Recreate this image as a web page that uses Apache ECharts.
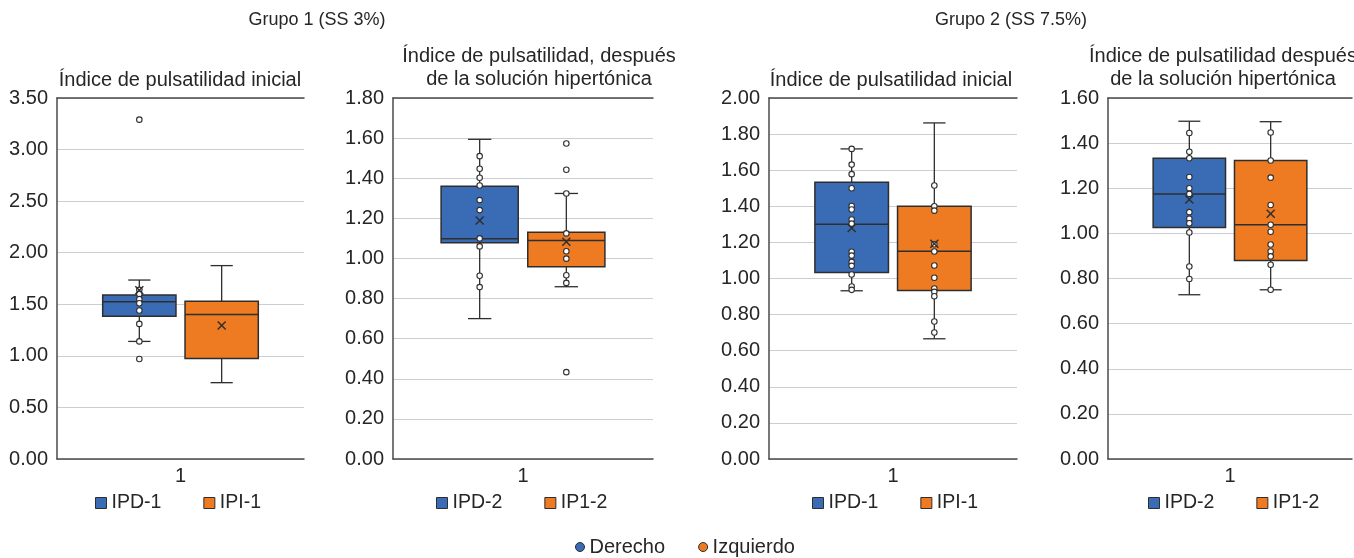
<!DOCTYPE html>
<html>
<head>
<meta charset="utf-8">
<script src="https://cdn.jsdelivr.net/npm/echarts@6/dist/echarts.min.js"></script>
<style>
  html, body { margin: 0; padding: 0; background: #fff; }
  #chart { width: 1354px; height: 558px; }
</style>
</head>
<body>
<div id="chart"></div>
<script>
// box stats: [min, q1, median, q3, max]
const g1InicialBox = [[1.14, 1.385, 1.525, 1.59, 1.735], [0.74, 0.975, 1.40, 1.53, 1.875]];
const g1InicialMean = [1.635, 1.295];
const g1InicialDer = [3.29, 1.64, 1.60, 1.55, 1.51, 1.44, 1.31, 1.14, 0.97];
const g1InicialIzq = [];

const g1DespuesBox = [[0.70, 1.078, 1.098, 1.36, 1.594], [0.859, 0.959, 1.09, 1.13, 1.324]];
const g1DespuesMean = [1.189, 1.083];
const g1DespuesDer = [1.51, 1.447, 1.402, 1.364, 1.291, 1.241, 1.10, 1.06, 0.914, 0.857];
const g1DespuesIzq = [1.573, 1.442, 1.324, 1.125, 1.036, 0.999, 0.916, 0.878, 0.433];

const g2InicialBox = [[0.932, 1.033, 1.301, 1.533, 1.718], [0.666, 0.934, 1.151, 1.40, 1.862]];
const g2InicialMean = [1.28, 1.192];
const g2InicialDer = [1.718, 1.631, 1.578, 1.50, 1.402, 1.382, 1.327, 1.304, 1.148, 1.127, 1.092, 1.07, 1.022, 0.956, 0.937];
const g2InicialIzq = [1.515, 1.40, 1.376, 1.19, 1.15, 1.072, 1.004, 0.945, 0.926, 0.902, 0.762, 0.701];

const g2DespuesBox = [[0.728, 1.026, 1.175, 1.333, 1.497], [0.75, 0.88, 1.038, 1.323, 1.495]];
const g2DespuesMean = [1.15, 1.087];
const g2DespuesDer = [1.445, 1.362, 1.333, 1.25, 1.20, 1.175, 1.094, 1.065, 1.045, 1.004, 0.853, 0.798];
const g2DespuesIzq = [1.447, 1.323, 1.247, 1.126, 1.038, 1.007, 0.951, 0.92, 0.898, 0.861, 0.75];

const categories = ['1'];
const groupTitles = ['Grupo 1 (SS 3%)', 'Grupo 2 (SS 7.5%)'];
const panelTitles = [
  'Índice de pulsatilidad inicial',
  'Índice de pulsatilidad, después\nde la solución hipertónica',
  'Índice de pulsatilidad inicial',
  'Índice de pulsatilidad después\nde la solución hipertónica'
];
const boxNames = [['IPD-1', 'IPI-1'], ['IPD-2', 'IP1-2'], ['IPD-1', 'IPI-1'], ['IPD-2', 'IP1-2']];
const yMax = [3.5, 1.8, 2.0, 1.6];
const yStep = [0.5, 0.2, 0.2, 0.2];
const sideNames = ['Derecho', 'Izquierdo'];

const panels = [
  {box: g1InicialBox, mean: g1InicialMean, der: g1InicialDer, izq: g1InicialIzq},
  {box: g1DespuesBox, mean: g1DespuesMean, der: g1DespuesDer, izq: g1DespuesIzq},
  {box: g2InicialBox, mean: g2InicialMean, der: g2InicialDer, izq: g2InicialIzq},
  {box: g2DespuesBox, mean: g2DespuesMean, der: g2DespuesDer, izq: g2DespuesIzq}
];

const BLUE = '#3a6cb5';
const ORANGE = '#ee7b22';
const EDGE = '#2e2e2e';
const AXIS = '#4a4a4a';
const GRIDLINE = '#cdced4';
const TEXT = '#262626';
const BOX_W = 0.89;   // in x units (axis 0..3)
const CAP_W = 0.27;

const gridPos = [
  {left: 57, width: 247},
  {left: 393, width: 260},
  {left: 769, width: 248},
  {left: 1108, width: 244}
];
const titleX = [180, 539, 891, 1223];
const legendX = [95, 436, 812, 1148];

function renderBox(params, api) {
  const x = api.value(0);
  const low = api.coord([x, api.value(1)]);
  const q1 = api.coord([x, api.value(2)]);
  const med = api.coord([x, api.value(3)]);
  const q3 = api.coord([x, api.value(4)]);
  const high = api.coord([x, api.value(5)]);
  const hb = api.size([BOX_W, 0])[0] / 2;
  const hc = api.size([CAP_W, 0])[0] / 2;
  const cx = med[0];
  const ls = {stroke: EDGE, lineWidth: 1.3};
  return {
    type: 'group',
    children: [
      {type: 'line', shape: {x1: cx, y1: high[1], x2: cx, y2: q3[1]}, style: ls},
      {type: 'line', shape: {x1: cx, y1: q1[1], x2: cx, y2: low[1]}, style: ls},
      {type: 'line', shape: {x1: cx - hc, y1: high[1], x2: cx + hc, y2: high[1]}, style: ls},
      {type: 'line', shape: {x1: cx - hc, y1: low[1], x2: cx + hc, y2: low[1]}, style: ls},
      {type: 'rect', shape: {x: cx - hb, y: q3[1], width: hb * 2, height: q1[1] - q3[1]},
        style: {fill: api.visual('color'), stroke: EDGE, lineWidth: 1.5}},
      {type: 'line', shape: {x1: cx - hb, y1: med[1], x2: cx + hb, y2: med[1]}, style: {stroke: EDGE, lineWidth: 1.5}}
    ]
  };
}

function renderMean(params, api) {
  const p = api.coord([api.value(0), api.value(1)]);
  const r = 4;
  const ls = {stroke: EDGE, lineWidth: 1.4};
  return {
    type: 'group',
    children: [
      {type: 'line', shape: {x1: p[0] - r, y1: p[1] - r, x2: p[0] + r, y2: p[1] + r}, style: ls},
      {type: 'line', shape: {x1: p[0] - r, y1: p[1] + r, x2: p[0] + r, y2: p[1] - r}, style: ls}
    ]
  };
}

const grid = [], xAxis = [], yAxis = [], series = [], legend = [];
const title = [
  {text: groupTitles[0], left: 317, top: 11, textAlign: 'center', padding: 0,
    textStyle: {fontSize: 18, fontWeight: 'normal', color: TEXT}},
  {text: groupTitles[1], left: 1011, top: 11, textAlign: 'center', padding: 0,
    textStyle: {fontSize: 18, fontWeight: 'normal', color: TEXT}}
];

panels.forEach(function (pn, i) {
  grid.push({left: gridPos[i].left, width: gridPos[i].width, top: 98, height: 361});
  const twoLines = panelTitles[i].indexOf('\n') >= 0;
  title.push({
    text: panelTitles[i], left: titleX[i], top: twoLines ? 45 : 69, textAlign: 'center', padding: 0,
    textStyle: {fontSize: 20, fontWeight: 'normal', color: TEXT, lineHeight: 23}
  });
  xAxis.push({
    type: 'category', gridIndex: i, data: categories, position: 'bottom',
    axisLine: {lineStyle: {color: AXIS, width: 1.5}},
    axisTick: {show: false},
    axisLabel: {fontSize: 20, color: TEXT, margin: 7}
  });
  xAxis.push({
    type: 'value', gridIndex: i, min: 0, max: 3, position: 'top',
    axisLine: {show: true, lineStyle: {color: AXIS, width: 1.5}},
    axisTick: {show: false}, axisLabel: {show: false}, splitLine: {show: false}
  });
  yAxis.push({
    type: 'value', gridIndex: i, min: 0, max: yMax[i], interval: yStep[i],
    axisLine: {show: true, lineStyle: {color: AXIS, width: 1.5}},
    axisTick: {show: false},
    axisLabel: {fontSize: 20, color: TEXT, margin: 9, formatter: function (v) { return v.toFixed(2); }},
    splitLine: {lineStyle: {color: GRIDLINE, width: 1.2}}
  });
  const xi = i * 2 + 1;
  [BLUE, ORANGE].forEach(function (c, k) {
    series.push({
      type: 'custom', name: boxNames[i][k], xAxisIndex: xi, yAxisIndex: i,
      itemStyle: {color: c},
      renderItem: renderBox,
      encode: {x: 0, y: [1, 2, 3, 4, 5]},
      data: [[k + 1].concat(pn.box[k])],
      z: 2
    });
  });
  [pn.der, pn.izq].forEach(function (pts, k) {
    series.push({
      type: 'scatter', name: sideNames[k], xAxisIndex: xi, yAxisIndex: i,
      symbol: 'circle', symbolSize: 5.5,
      itemStyle: {color: '#ffffff', borderColor: EDGE, borderWidth: 1.1, opacity: 1},
      data: pts.map(function (v) { return [k + 1, v]; }),
      z: 3
    });
  });
  series.push({
    type: 'custom', xAxisIndex: xi, yAxisIndex: i,
    renderItem: renderMean,
    encode: {x: 0, y: 1},
    data: pn.mean.map(function (v, k) { return [k + 1, v]; }),
    z: 4
  });
  legend.push({
    left: legendX[i], top: 493, padding: 0, itemGap: 42, itemWidth: 11, itemHeight: 11,
    icon: 'rect', selectedMode: false,
    textStyle: {fontSize: 19.5, color: TEXT},
    data: [
      {name: boxNames[i][0], itemStyle: {color: BLUE, borderColor: EDGE, borderWidth: 1}},
      {name: boxNames[i][1], itemStyle: {color: ORANGE, borderColor: EDGE, borderWidth: 1}}
    ]
  });
});

legend.push({
  left: 575, top: 537, padding: 0, itemGap: 33, itemWidth: 9, itemHeight: 9,
  icon: 'circle', selectedMode: false,
  textStyle: {fontSize: 20, color: TEXT},
  data: [
    {name: sideNames[0], itemStyle: {color: BLUE, borderColor: EDGE, borderWidth: 1}},
    {name: sideNames[1], itemStyle: {color: ORANGE, borderColor: EDGE, borderWidth: 1}}
  ]
});

const chart = echarts.init(document.getElementById('chart'));
chart.setOption({
  animation: false,
  backgroundColor: '#ffffff',
  textStyle: {fontFamily: '"Liberation Sans", Arial, sans-serif'},
  title: title,
  grid: grid,
  xAxis: xAxis,
  yAxis: yAxis,
  legend: legend,
  series: series
});
</script>
</body>
</html>
